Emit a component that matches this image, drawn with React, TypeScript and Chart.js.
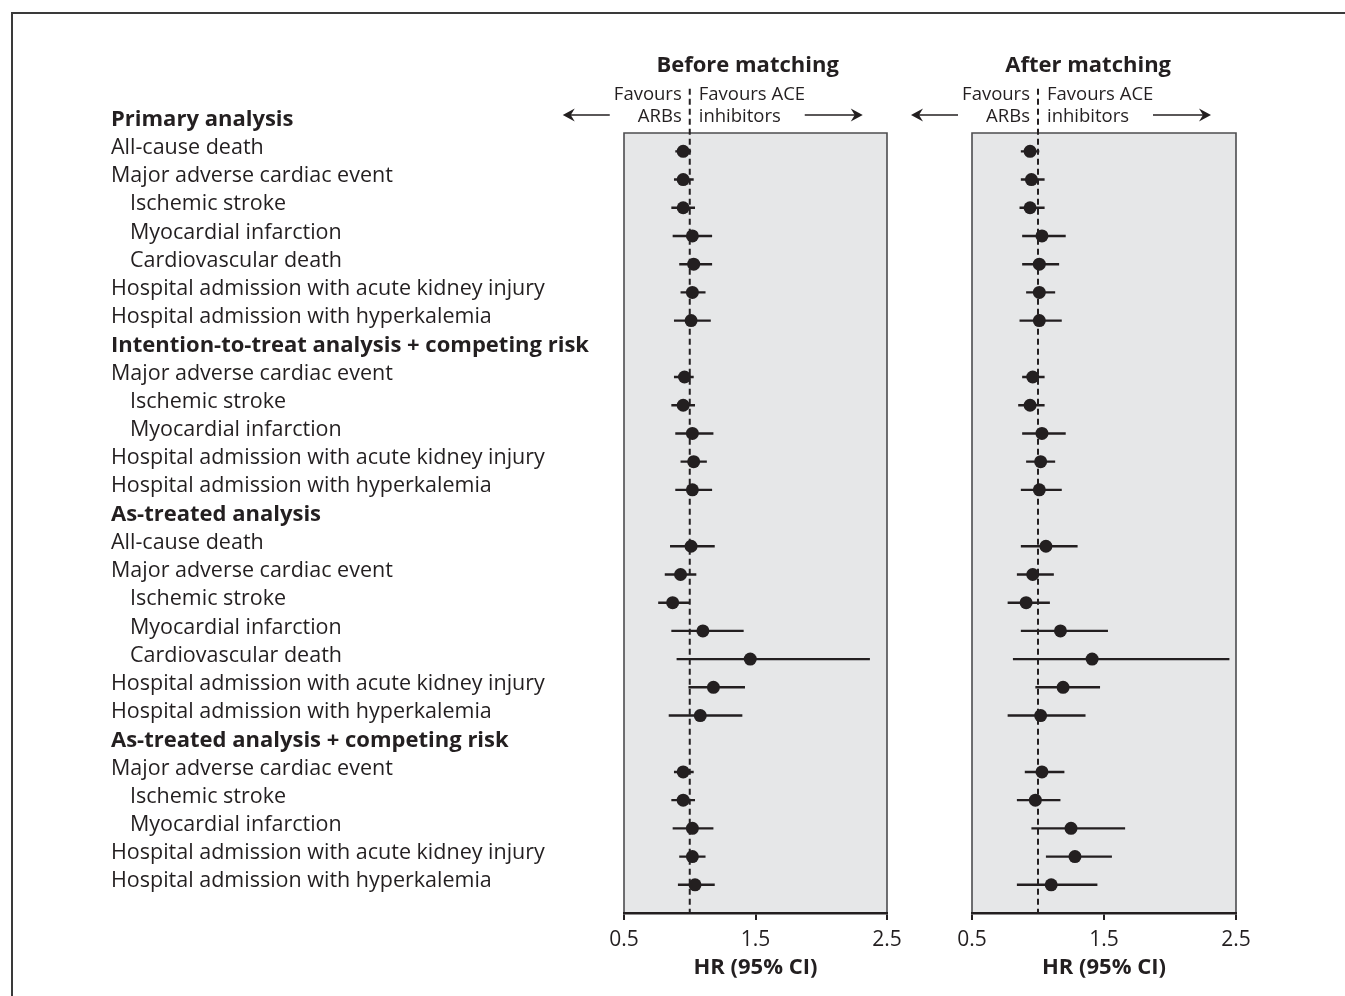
import React, { useEffect, useRef } from "react";
import { Chart, registerables } from "chart.js";

Chart.register(...registerables);

// ---------------- data ----------------
const rowLabels = [
  "Primary analysis",
  "All-cause death",
  "Major adverse cardiac event",
  "Ischemic stroke",
  "Myocardial infarction",
  "Cardiovascular death",
  "Hospital admission with acute kidney injury",
  "Hospital admission with hyperkalemia",
  "Intention-to-treat analysis + competing risk",
  "Major adverse cardiac event",
  "Ischemic stroke",
  "Myocardial infarction",
  "Hospital admission with acute kidney injury",
  "Hospital admission with hyperkalemia",
  "As-treated analysis",
  "All-cause death",
  "Major adverse cardiac event",
  "Ischemic stroke",
  "Myocardial infarction",
  "Cardiovascular death",
  "Hospital admission with acute kidney injury",
  "Hospital admission with hyperkalemia",
  "As-treated analysis + competing risk",
  "Major adverse cardiac event",
  "Ischemic stroke",
  "Myocardial infarction",
  "Hospital admission with acute kidney injury",
  "Hospital admission with hyperkalemia",
];
const headerRows = [0, 8, 14, 22];
const indentedRows = [3, 4, 5, 10, 11, 17, 18, 19, 24, 25];

// Before matching: HR and 95% CI (null = section header row)
const beforeHR = [null, 0.95, 0.95, 0.95, 1.02, 1.03, 1.02, 1.01, null, 0.96, 0.95, 1.02, 1.03, 1.02, null, 1.01, 0.93, 0.87, 1.10, 1.46, 1.18, 1.08, null, 0.95, 0.95, 1.02, 1.02, 1.04];
const beforeLow = [null, 0.89, 0.88, 0.86, 0.87, 0.92, 0.93, 0.88, null, 0.88, 0.86, 0.89, 0.93, 0.89, null, 0.85, 0.81, 0.76, 0.86, 0.90, 0.99, 0.84, null, 0.88, 0.86, 0.87, 0.92, 0.91];
const beforeHigh = [null, 1.01, 1.03, 1.04, 1.17, 1.17, 1.12, 1.16, null, 1.03, 1.04, 1.18, 1.13, 1.17, null, 1.19, 1.05, 1.00, 1.41, 2.37, 1.42, 1.40, null, 1.03, 1.04, 1.18, 1.12, 1.19];

// After matching
const afterHR = [null, 0.94, 0.95, 0.94, 1.03, 1.01, 1.01, 1.01, null, 0.96, 0.94, 1.03, 1.02, 1.01, null, 1.06, 0.96, 0.91, 1.17, 1.41, 1.19, 1.02, null, 1.03, 0.98, 1.25, 1.28, 1.10];
const afterLow = [null, 0.87, 0.87, 0.86, 0.88, 0.88, 0.91, 0.86, null, 0.88, 0.85, 0.88, 0.91, 0.87, null, 0.87, 0.84, 0.77, 0.87, 0.81, 0.98, 0.77, null, 0.90, 0.84, 0.95, 1.06, 0.84];
const afterHigh = [null, 1.01, 1.05, 1.05, 1.21, 1.16, 1.13, 1.18, null, 1.05, 1.05, 1.21, 1.13, 1.18, null, 1.30, 1.12, 1.09, 1.53, 2.45, 1.47, 1.36, null, 1.20, 1.17, 1.66, 1.56, 1.45];

const xTicks = [0.5, 1.5, 2.5];
const REF_HR = 1;
const panelTitles = ["Before matching", "After matching"];
const xAxisTitle = "HR (95% CI)";
const favoursLeft = ["Favours", "ARBs"];
const favoursRight = ["Favours ACE", "inhibitors"];

// ---------------- style ----------------
const INK = "#231f20";
const PANEL_FILL = "#e6e7e8";
const PANEL_EDGE = "#4d4d4f";
const FONT = "'Open Sans', 'Noto Sans', sans-serif";
const ROW_MIN = 0.35;
const ROW_MAX = 28.0;
const REF_TOP = -1.22; // dashed reference line runs up through the "Favours" labels

function drawArrow(ctx: CanvasRenderingContext2D, fromX: number, toX: number, y: number) {
  const dir = toX > fromX ? 1 : -1;
  ctx.save();
  ctx.strokeStyle = INK;
  ctx.fillStyle = INK;
  ctx.lineWidth = 1.6;
  ctx.beginPath();
  ctx.moveTo(fromX, y);
  ctx.lineTo(toX - dir * 4, y);
  ctx.stroke();
  ctx.beginPath();
  ctx.moveTo(toX, y);
  ctx.lineTo(toX - dir * 12, y - 6.5);
  ctx.lineTo(toX - dir * 8, y);
  ctx.lineTo(toX - dir * 12, y + 6.5);
  ctx.closePath();
  ctx.fill();
  ctx.restore();
}

function forestPlugin(title: string, titleValue: number, showLabels: boolean) {
  return {
    id: "forest",
    beforeDraw(chart: any) {
      const { ctx, chartArea: a } = chart;
      ctx.save();
      ctx.fillStyle = PANEL_FILL;
      ctx.fillRect(a.left, a.top, a.right - a.left, a.bottom - a.top);
      ctx.strokeStyle = PANEL_EDGE;
      ctx.lineWidth = 1.6;
      ctx.beginPath();
      ctx.moveTo(a.left, a.bottom);
      ctx.lineTo(a.left, a.top);
      ctx.lineTo(a.right, a.top);
      ctx.lineTo(a.right, a.bottom);
      ctx.stroke();
      ctx.restore();
    },
    afterDraw(chart: any) {
      const { ctx } = chart;
      const xs = chart.scales.x;
      const ys = chart.scales.y;
      const ref = xs.getPixelForValue(REF_HR);
      ctx.save();
      ctx.fillStyle = INK;
      ctx.textBaseline = "middle";
      ctx.font = `bold 22px ${FONT}`;
      ctx.textAlign = "center";
      ctx.fillText(title, xs.getPixelForValue(titleValue), 66);

      ctx.font = `18.5px ${FONT}`;
      ctx.textAlign = "right";
      ctx.fillText(favoursLeft[0], ref - 8, 95);
      ctx.fillText(favoursLeft[1], ref - 8, 117);
      ctx.textAlign = "left";
      ctx.fillText(favoursRight[0], ref + 9, 95);
      ctx.fillText(favoursRight[1], ref + 9, 117);
      drawArrow(ctx, ref - 80, ref - 127, 115);
      drawArrow(ctx, ref + 115, ref + 173, 115);

      if (showLabels) {
        rowLabels.forEach((label, i) => {
          const isHeader = headerRows.includes(i);
          const indent = indentedRows.includes(i);
          ctx.font = isHeader ? `bold 22px ${FONT}` : `21.5px ${FONT}`;
          ctx.textAlign = "left";
          ctx.fillText(label, indent ? 130 : 111, ys.getPixelForValue(i) - 3.5);
        });
      }
      ctx.restore();
    },
  };
}

function buildConfig(
  hr: (number | null)[],
  lo: (number | null)[],
  hi: (number | null)[],
  padding: { left: number; right: number },
  title: string,
  titleValue: number,
  showLabels: boolean
): any {
  const points: any[] = [];
  const bars: any[] = [];
  hr.forEach((v, i) => {
    if (v == null) return;
    points.push({ x: v, y: i });
    bars.push({ x: lo[i], y: i }, { x: hi[i], y: i }, { x: null, y: null });
  });
  return {
    type: "scatter",
    data: {
      datasets: [
        {
          type: "line",
          data: [
            { x: REF_HR, y: REF_TOP },
            { x: REF_HR, y: ROW_MAX },
          ],
          borderColor: INK,
          borderWidth: 2,
          borderDash: [6, 4],
          pointRadius: 0,
          clip: false,
          order: 3,
        },
        {
          type: "line",
          data: bars,
          borderColor: INK,
          borderWidth: 2.4,
          pointRadius: 0,
          spanGaps: false,
          order: 2,
        },
        {
          type: "scatter",
          data: points,
          backgroundColor: INK,
          borderColor: INK,
          borderWidth: 0,
          pointRadius: 6.5,
          order: 1,
        },
      ],
    },
    options: {
      responsive: false,
      animation: false,
      events: [],
      layout: { padding: { left: padding.left, right: padding.right, top: 133, bottom: 0 } },
      plugins: { legend: { display: false }, tooltip: { enabled: false }, title: { display: false } },
      scales: {
        x: {
          type: "linear",
          min: 0.5,
          max: 2.5,
          afterBuildTicks: (s: any) => {
            s.ticks = xTicks.map((v) => ({ value: v }));
          },
          afterFit: (s: any) => {
            s.height = 83;
          },
          grid: { display: true, drawOnChartArea: false, drawTicks: true, tickLength: 7, color: INK, lineWidth: 2 },
          border: { display: true, color: INK, width: 2.5 },
          ticks: {
            color: INK,
            font: { family: FONT, size: 21 },
            padding: 7,
            callback: (v: number) => Number(v).toFixed(1),
          },
          title: {
            display: true,
            text: xAxisTitle,
            color: INK,
            font: { family: FONT, size: 22, weight: "bold" },
            padding: { top: 0, bottom: 14.8 },
          },
        },
        y: { type: "linear", reverse: true, min: ROW_MIN, max: ROW_MAX, display: false },
      },
    },
    plugins: [forestPlugin(title, titleValue, showLabels)],
  };
}

export default function App() {
  const leftRef = useRef<HTMLCanvasElement>(null);
  const rightRef = useRef<HTMLCanvasElement>(null);

  useEffect(() => {
    const a = new Chart(
      leftRef.current as HTMLCanvasElement,
      buildConfig(beforeHR, beforeLow, beforeHigh, { left: 624, right: 53 }, panelTitles[0], 1.44, true)
    );
    const b = new Chart(
      rightRef.current as HTMLCanvasElement,
      buildConfig(afterHR, afterLow, afterHigh, { left: 82, right: 109 }, panelTitles[1], 1.38, false)
    );
    return () => {
      a.destroy();
      b.destroy();
    };
  }, []);

  return (
    <div style={{ position: "absolute", left: 0, top: 0, width: 1345, height: 996, overflow: "hidden", background: "#fff" }}>
      <div
        style={{
          position: "absolute",
          left: 11,
          top: 12,
          width: 1334,
          height: 984,
          boxSizing: "border-box",
          borderTop: "2px solid #3a3a3a",
          borderLeft: "2px solid #3a3a3a",
        }}
      />
      <canvas ref={leftRef} width={940} height={996} style={{ position: "absolute", left: 0, top: 0 }} />
      <canvas ref={rightRef} width={455} height={996} style={{ position: "absolute", left: 890, top: 0 }} />
    </div>
  );
}
